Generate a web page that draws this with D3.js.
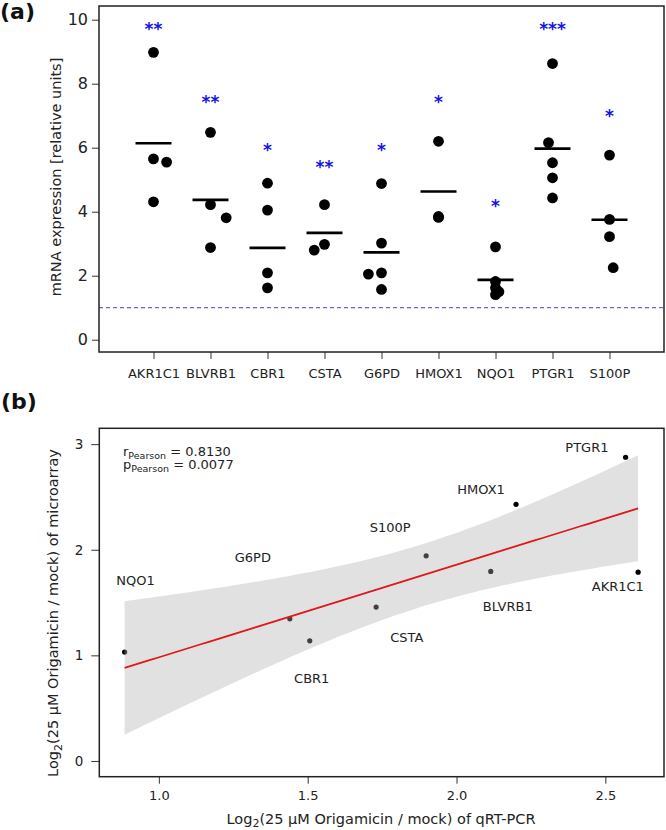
<!DOCTYPE html>
<html><head><meta charset="utf-8">
<script src="https://cdn.jsdelivr.net/npm/d3@7/dist/d3.min.js"></script>
<style>
body{margin:0;background:#fff}
svg text{font-family:"DejaVu Sans",sans-serif;fill:#222}
</style>
</head><body>
<svg id="chart" width="666" height="830"></svg>
<script>
// ---------- Panel (a) data ----------
const genes = ["AKR1C1","BLVRB1","CBR1","CSTA","G6PD","HMOX1","NQO1","PTGR1","S100P"];
const expression = [
  [8.98,5.65,5.55,4.31],
  [6.48,4.22,3.81,2.88],
  [4.89,4.05,2.09,1.62],
  [4.22,2.98,2.80],
  [4.88,3.02,2.09,2.05,1.57],
  [6.20,3.85,3.82],
  [2.90,1.82,1.62,1.50,1.41],
  [8.63,6.16,5.53,5.06,4.43],
  [5.77,3.76,3.22,2.25]
];
const jitter = [
  [0,0,0.23,0],
  [0,0,0.275,0],
  [0,0,0,0],
  [0,0,-0.18],
  [0,0,0,-0.23,0],
  [0,0,0],
  [0,0,0,0.06,0],
  [0,-0.07,0,0,0],
  [0,0,0,0.065]
];
const meanValues = [6.14,4.37,2.87,3.34,2.73,4.63,1.87,5.97,3.75];
const significance = ["**","**","*","**","*","*","*","***","*"];
const starLevel = [9.83,7.55,6.05,5.53,6.06,7.56,4.32,9.83,7.11];
const yTicksA = [0,2,4,6,8,10];
const referenceLevel = 1;

// ---------- Panel (b) data ----------
const pointGenes = ["NQO1","G6PD","CBR1","CSTA","S100P","HMOX1","PTGR1","BLVRB1","AKR1C1"];
const qpcrLog2 = [0.885,1.44,1.507,1.73,1.898,2.20,2.568,2.115,2.61];
const microarrayLog2 = [1.031,1.346,1.138,1.457,1.942,2.43,2.876,1.795,1.788];
const xTicksB = [1.0,1.5,2.0,2.5];
const yTicksB = [0,1,2,3];
const rPearson = "0.8130";
const pPearson = "0.0077";
const tCrit = 2.3646; // t(0.975, df=7)

const svg = d3.select("#chart");

// ================= Panel (a) =================
const A = {l:99, r:664, t:6, b:352};
const xA = d3.scalePoint().domain(genes).range([A.l, A.r]).padding(0.956);
const stepA = xA.step();
const yA = d3.scaleLinear().domain([-0.384, 10.428]).range([A.b, A.t]);

svg.append("text").attr("x",0).attr("y",19)
  .style("font-size","22px").style("font-weight","bold").style("fill","#111").text("(a)");

// reference dashed line
svg.append("line")
  .attr("x1",A.l).attr("x2",A.r)
  .attr("y1",yA(referenceLevel)).attr("y2",yA(referenceLevel))
  .attr("stroke","#3c3cf5").attr("stroke-width",1).attr("stroke-dasharray","4,3");

// points
genes.forEach((g,i)=>{
  svg.append("g").selectAll("circle").data(expression[i]).join("circle")
    .attr("cx",(d,j)=>xA(g)+jitter[i][j]*stepA)
    .attr("cy",d=>yA(d))
    .attr("r",5.4).attr("fill","#000");
});
// mean bars
svg.append("g").selectAll("line").data(genes).join("line")
  .attr("x1",g=>xA(g)-18).attr("x2",g=>xA(g)+18)
  .attr("y1",(g,i)=>yA(meanValues[i])).attr("y2",(g,i)=>yA(meanValues[i]))
  .attr("stroke","#000").attr("stroke-width",2.6);
// significance stars
svg.append("g").selectAll("text").data(genes).join("text")
  .attr("x",g=>xA(g)).attr("y",(g,i)=>yA(starLevel[i])).attr("dy","0.6em")
  .attr("text-anchor","middle").style("font-size","17px").style("font-weight","bold")
  .style("fill","#1414e6")
  .text((g,i)=>significance[i]);

// axes
const axA_y = svg.append("g").attr("transform",`translate(${A.l},0)`)
  .call(d3.axisLeft(yA).tickValues(yTicksA).tickSize(7).tickPadding(4));
axA_y.select(".domain").remove();
axA_y.selectAll("text").style("font-size","16px");
const axA_x = svg.append("g").attr("transform",`translate(0,${A.b})`)
  .call(d3.axisBottom(xA).tickSize(7).tickPadding(9.5));
axA_x.select(".domain").remove();
axA_x.selectAll("text").style("font-size","13px");
[axA_x,axA_y].forEach(a=>a.selectAll("line").attr("stroke","#333"));

svg.append("rect").attr("x",A.l).attr("y",A.t).attr("width",A.r-A.l).attr("height",A.b-A.t)
  .attr("fill","none").attr("stroke","#222").attr("stroke-width",1.5);

svg.append("text").attr("transform",`translate(61,177) rotate(-90)`)
  .attr("text-anchor","middle").style("font-size","14.5px")
  .text("mRNA expression [relative units]");

// ================= Panel (b) =================
const B = {l:99.3, r:664, t:428.3, b:776.7};
const xB = d3.scaleLinear().domain([0.8, 2.697]).range([B.l, B.r]);
const yB = d3.scaleLinear().domain([-0.149, 3.15]).range([B.b, B.t]);

svg.append("text").attr("x",1).attr("y",409)
  .style("font-size","22px").style("font-weight","bold").style("fill","#111").text("(b)");

// linear fit + 95% CI
const n = qpcrLog2.length;
const mx = d3.mean(qpcrLog2), my = d3.mean(microarrayLog2);
let sxx=0, sxy=0;
for(let i=0;i<n;i++){ sxx+=(qpcrLog2[i]-mx)**2; sxy+=(qpcrLog2[i]-mx)*(microarrayLog2[i]-my); }
const slope = sxy/sxx, icpt = my - slope*mx;
let sse=0;
for(let i=0;i<n;i++){ sse += (microarrayLog2[i]-(icpt+slope*qpcrLog2[i]))**2; }
const s = Math.sqrt(sse/(n-2));
const [xmin,xmax] = d3.extent(qpcrLog2);
const grid = d3.range(0,81).map(k=>xmin+(xmax-xmin)*k/80);
const band = grid.map(x=>{
  const fit = icpt+slope*x;
  const se = s*Math.sqrt(1/n + (x-mx)**2/sxx);
  return {x, fit, lo:fit-tCrit*se, hi:fit+tCrit*se};
});

// points
svg.append("g").selectAll("circle").data(qpcrLog2).join("circle")
  .attr("cx",d=>xB(d)).attr("cy",(d,i)=>yB(microarrayLog2[i]))
  .attr("r",2.6).attr("fill","#000");

// ribbon over points
svg.append("path").datum(band)
  .attr("d",d3.area().x(d=>xB(d.x)).y0(d=>yB(d.lo)).y1(d=>yB(d.hi)))
  .attr("fill","#aeaeae").attr("fill-opacity",0.37);

// regression line
svg.append("path").datum(band)
  .attr("d",d3.line().x(d=>xB(d.x)).y(d=>yB(d.fit)))
  .attr("fill","none").attr("stroke","#e0181c").attr("stroke-width",1.8);

// point labels (pixel offsets from points)
const labelOffset = {
  NQO1:[11,-71.3], G6PD:[-37,-61], CBR1:[2,37.6], CSTA:[30.7,30.7],
  S100P:[-36,-29], HMOX1:[-35,-15.3], PTGR1:[-38.7,-10], BLVRB1:[17,34.7], AKR1C1:[-20.3,14]
};
svg.append("g").selectAll("text").data(pointGenes).join("text")
  .attr("x",(g,i)=>xB(qpcrLog2[i])+labelOffset[g][0])
  .attr("y",(g,i)=>yB(microarrayLog2[i])+labelOffset[g][1])
  .attr("dy","0.36em").attr("text-anchor","middle").style("font-size","13px")
  .text(g=>g);

// axes
const axB_y = svg.append("g").attr("transform",`translate(${B.l},0)`)
  .call(d3.axisLeft(yB).tickValues(yTicksB).tickSize(8).tickPadding(8).tickFormat(d3.format("d")));
axB_y.select(".domain").remove();
axB_y.selectAll("text").style("font-size","13.5px");
const axB_x = svg.append("g").attr("transform",`translate(0,${B.b})`)
  .call(d3.axisBottom(xB).tickValues(xTicksB).tickSize(7).tickPadding(7).tickFormat(d3.format(".1f")));
axB_x.select(".domain").remove();
axB_x.selectAll("text").style("font-size","13px");
[axB_x,axB_y].forEach(a=>a.selectAll("line").attr("stroke","#333"));

svg.append("rect").attr("x",B.l).attr("y",B.t).attr("width",B.r-B.l).attr("height",B.b-B.t)
  .attr("fill","none").attr("stroke","#222").attr("stroke-width",1.5);

// correlation annotation
function statLine(y, sym, val){
  const t = svg.append("text").attr("x",123).attr("y",y).style("font-size","13px");
  t.append("tspan").text(sym);
  t.append("tspan").attr("dy",3).style("font-size","9.5px").text("Pearson");
  t.append("tspan").attr("dy",-3).text(" = "+val);
}
statLine(455.5,"r",rPearson);
statLine(469,"p",pPearson);

// axis titles
const xt = svg.append("text").attr("x",381).attr("y",823.5).attr("text-anchor","middle").style("font-size","14.5px");
xt.append("tspan").text("Log");
xt.append("tspan").attr("dy",3).style("font-size","11px").text("2");
xt.append("tspan").attr("dy",-3).text("(25 µM Origamicin / mock) of qRT-PCR");

const yt = svg.append("text").attr("transform","translate(58,613) rotate(-90)").attr("text-anchor","middle").style("font-size","14.5px");
yt.append("tspan").text("Log");
yt.append("tspan").attr("dy",4).style("font-size","11px").text("2");
yt.append("tspan").attr("dy",-4).text("(25 µM Origamicin / mock) of microarray");
</script>
</body></html>
